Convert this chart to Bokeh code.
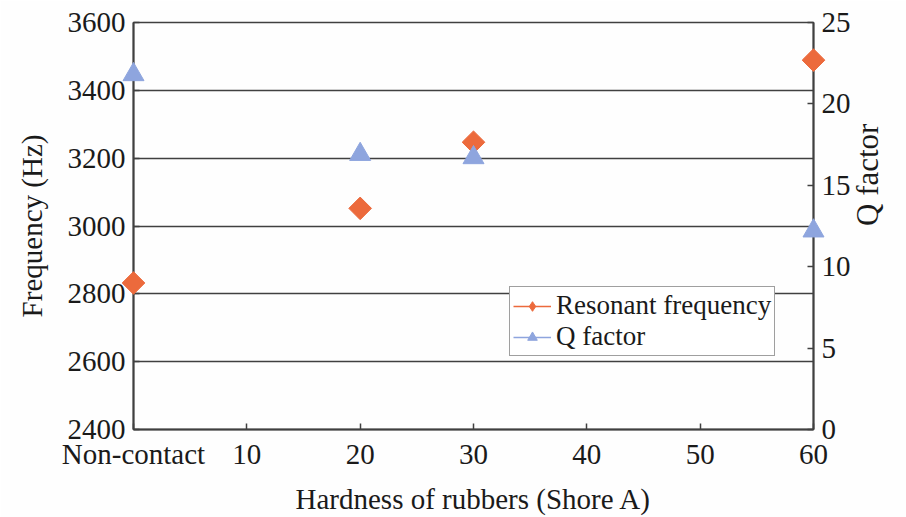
import math
from bokeh.plotting import figure
from bokeh.models import (Range1d, LinearAxis, FixedTicker, ColumnDataSource,
                          Legend, LegendItem, CDSView, IndexFilter)
from bokeh.embed import file_html
from bokeh.resources import INLINE

# ---- data ----
hardness = [0, 20, 30, 60]
frequency = [2832, 3052, 3247, 3489]
q_factor = [21.8, 16.9, 16.7, 12.2]

x_ticks = [0, 10, 20, 30, 40, 50, 60]
x_tick_labels = ["Non-contact", "10", "20", "30", "40", "50", "60"]
freq_ticks = [2400, 2600, 2800, 3000, 3200, 3400, 3600]
q_ticks = [0, 5, 10, 15, 20, 25]

FONT = "Liberation Serif"
DARK = "#404040"
ORANGE = "#EC6A3C"
BLUE = "#8EA5DE"

p = figure(width=906, height=517, output_backend="svg", toolbar_location=None,
           x_range=Range1d(0, 60), y_range=Range1d(2400, 3600),
           min_border_left=133, min_border_right=93, min_border_top=22,
           min_border_bottom=82, background_fill_color="#FEFEFE",
           border_fill_color="#FEFEFE")
p.extra_y_ranges = {"q": Range1d(0, 25)}
p.outline_line_color = DARK
p.outline_line_width = 1.5

# axes styling
p.xaxis.ticker = FixedTicker(ticks=x_ticks)
p.xaxis.major_label_overrides = {t: l for t, l in zip(x_ticks, x_tick_labels)}
p.yaxis.ticker = FixedTicker(ticks=freq_ticks)
p.xaxis.axis_label = "Hardness of rubbers (Shore A)"
p.yaxis.axis_label = "Frequency (Hz)"

q_axis = LinearAxis(y_range_name="q", ticker=FixedTicker(ticks=q_ticks),
                    axis_label="Q factor")
p.add_layout(q_axis, "right")

for ax in [p.xaxis[0], p.yaxis[0], q_axis]:
    ax.axis_line_color = DARK
    ax.axis_line_width = 2
    ax.major_tick_line_color = DARK
    ax.major_tick_line_width = 1.5
    ax.major_tick_in = 6
    ax.major_tick_out = 0
    ax.minor_tick_line_color = None
    ax.major_label_text_font = FONT
    ax.major_label_text_font_size = "29px"
    ax.major_label_text_color = "#1a1a1a"
    ax.major_label_standoff = 8
    ax.axis_label_text_font = FONT
    ax.axis_label_text_font_size = "29px"
    ax.axis_label_text_font_style = "normal"
    ax.axis_label_text_color = "#1a1a1a"
    ax.axis_label_standoff = 10

p.yaxis[0].axis_label_standoff = 17
q_axis.axis_label_standoff = 14
q_axis.axis_label_text_font_size = "31px"
q_axis.axis_label_orientation = math.pi / 2
try:
    q_axis.axis_label_align = "center"
except AttributeError:
    pass

p.xgrid.grid_line_color = None
p.ygrid.ticker = FixedTicker(ticks=freq_ticks)
p.ygrid.grid_line_color = DARK
p.ygrid.grid_line_width = 1.5

src = ColumnDataSource(dict(x=hardness, f=frequency, q=q_factor))
single = CDSView(filter=IndexFilter(indices=[0]))

# legend-only glyphs (single point: no visible line; small marker hidden
# beneath the large marker of the same point)
lf = p.line("x", "f", source=src, view=single, line_color=ORANGE, line_width=1.5)
mf = p.scatter("x", "f", source=src, view=single, marker="diamond", size=8,
               fill_color=ORANGE, line_color=ORANGE)
lq = p.line("x", "q", source=src, view=single, y_range_name="q",
            line_color=BLUE, line_width=1.5)

# actual points
rf = p.scatter("x", "f", source=src, marker="square", angle=math.pi / 4, size=16,
               fill_color=ORANGE, line_color=ORANGE, level="overlay")
rq = p.scatter("x", "q", source=src, y_range_name="q", marker="triangle", size=21,
               fill_color=BLUE, line_color=BLUE, level="overlay")

legend = Legend(items=[LegendItem(label="Resonant frequency", renderers=[lf, mf]),
                       LegendItem(label="Q factor", renderers=[lq, rq])],
                location=(376, 73), orientation="vertical",
                label_text_font=FONT, label_text_font_size="27px",
                label_text_color="#1a1a1a",
                glyph_width=38, glyph_height=24, label_standoff=5,
                padding=3, spacing=0, margin=0,
                border_line_color=DARK, border_line_width=1.5,
                background_fill_color="white", background_fill_alpha=1.0)
p.add_layout(legend, "center")

open("out.html", "w").write(file_html(p, INLINE))
